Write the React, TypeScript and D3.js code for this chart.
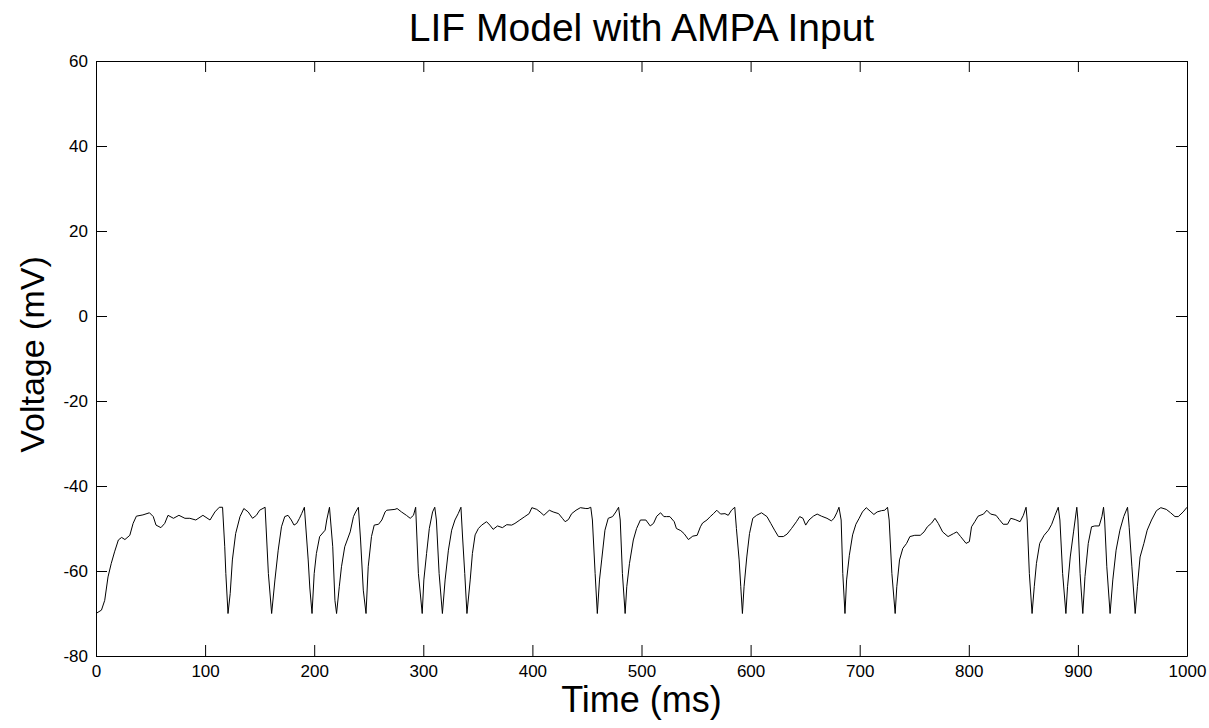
import React, { useEffect, useRef } from "react";
import * as d3 from "d3";

// membrane trace (time ms, voltage mV)
const timeMs = [
  0, 5, 8, 11, 14, 17, 20.5, 23.5, 26.5, 31, 34, 37, 43, 49, 52.5, 55, 59.5, 63, 66, 71, 76, 81.5, 86, 91.5, 98, 104.5, 109, 113, 116,
  118, 119, 121, 123, 125, 128, 132, 135.5, 139.5, 143.5, 147, 150, 155, 158, 161, 164, 167, 170, 173, 176, 179, 181.5, 184, 186.5,
  188.5, 191, 194.5, 196, 198, 200, 202, 205, 210, 211.5, 214, 217, 219, 220.5, 223, 225, 228, 233, 236, 238, 240.5, 242.5, 245,
  247.5, 249.5, 252.5, 255, 259, 262, 265, 266.5, 274, 276, 280, 284.5, 288, 291, 293, 295.5, 299, 300.5, 303, 305.5, 308.5, 310.5,
  312, 314.5, 317.5, 320, 323, 326, 329, 332, 334.5, 336, 338, 340, 343, 345, 347.5, 350.5, 353.5, 358, 361, 364, 368, 372.5, 376.5,
  381, 384, 388.5, 393, 397, 399.5, 404, 407, 410.5, 415.5, 419, 424, 427.5, 430, 433, 436, 440, 444, 449, 451, 453.5, 455, 457.5,
  459.5, 461.5, 463.5, 466.5, 469.5, 473.5, 476.5, 479, 480.5, 482.5, 485, 486.5, 489, 492.5, 495.5, 499, 504, 508, 511, 514, 517.5,
  520.5, 523, 526, 530, 532, 536, 539, 543, 547, 551, 554, 556, 560, 563, 566, 569, 572.5, 576.5, 579.5, 582.5, 585.5, 587, 589.5,
  591, 592.5, 594, 596.5, 599, 602, 605.5, 610, 615, 618.5, 622, 625.5, 630, 633.5, 637.5, 642, 645, 648, 650.5, 653.5, 657.5, 661,
  665, 670, 674, 676.5, 679, 681, 683, 684.5, 686.5, 688, 690.5, 693.5, 696.5, 699.5, 702.5, 706, 709.5, 713, 716, 720, 723, 725.5,
  727, 729.5, 732.5, 734, 736.5, 739.5, 743, 746, 750.5, 755.5, 759, 762, 766, 769, 772, 776, 781, 786, 789, 792.5, 797.5, 800.5,
  802.5, 805.5, 808.5, 813.5, 816.5, 820, 825, 828, 831.5, 835.5, 838.5, 842.5, 847, 850, 852.5, 853.5, 855.5, 858, 860, 862, 865,
  869, 873, 876, 879, 882, 883.5, 886, 889, 890.5, 893, 896, 899, 900, 902, 904.5, 906.5, 909.5, 912.5, 915.5, 919.5, 922, 923.5,
  924.5, 926.5, 929.5, 932, 935, 938.5, 942, 945.5, 947, 949.5, 952.5, 954.5, 957, 960.5, 963.5, 967.5, 972, 976, 981, 985, 989,
  992, 996.5, 1000,
];

const voltageMv = [
  -70, -69.2, -66.9, -61.4, -58.2, -55.5, -52.7, -52.1, -52.6, -51.6, -48.8, -47.1, -46.8, -46.3, -47.2, -49.2, -49.8, -48.8, -46.9,
  -47.6, -46.9, -47.6, -47.6, -48, -46.9, -48, -46.1, -45, -45,
  -54.3, -60.6, -70, -65.3, -57.4, -51.2, -47.2, -45.3, -46.1, -47.6, -46.9, -45.7, -45, -60.6, -70, -62.1, -55.1, -49.6, -47.2,
  -46.9, -48, -49.2, -48.8, -47.6,
  -46.5, -45, -57.4, -64, -70, -60.6, -55.9, -51.9, -50.4, -48, -45, -54.3, -66.9, -70, -63.7, -59, -54.3, -50.8, -47.2, -46.1, -45,
  -52.7, -64.5,
  -70, -59, -51.9, -49.2, -49, -48, -46.1, -45.7, -45.5, -45.3, -46.1, -46.9, -47.6, -46.9, -45, -60.6, -70, -62.1, -55.9, -50,
  -46.1, -45,
  -48, -60.6, -70, -62.1, -55.1, -50.4, -48, -46.5, -45, -52, -60.6, -70, -62.1, -55.9, -51.5, -50, -49.2, -48.4, -49.2, -50.2,
  -49.4, -49.8, -49.1,
  -49.2, -48.8, -48, -47.2, -46.5, -45.1, -45.5, -46.1, -46.9, -45.7, -46.1, -46.5, -47.6, -48.4, -47.9, -46.5, -45.7, -45.1, -45.3,
  -45.3, -45, -48, -60.6,
  -70, -62.1, -57.4, -50.4, -47.6, -47.2, -46.1, -45, -48, -60.6, -70, -63.7, -58.2, -52.7, -50, -48, -48, -49.4, -48.8, -47.1,
  -46.3,
  -47.2, -47.2, -47.2, -48.4, -50, -50.5, -51.2, -52.6, -51.8, -51.6, -49.6, -48.7, -48, -47.2, -46.5, -45.7, -46.6, -46.5, -46.9,
  -45.7, -45, -50, -57.4,
  -63.7, -70, -63.7, -56.7, -51.2, -47.6, -46.9, -46.3, -47.2, -48.8, -50.4, -51.9, -51.9, -51.3, -50, -48.4, -47.2, -47.6, -49.2,
  -48, -47.1, -46.6,
  -47.1, -47.6, -48.2, -47.6, -46.3, -45, -48, -60.6, -70, -62.1, -56.3, -51.5, -49, -47.6, -46.1, -45.1, -45.9, -46.7, -46.1,
  -45.8, -45.7, -45,
  -48, -60.6, -70, -63.7, -57.4, -54.7, -53.5, -51.9, -51.6, -51.6, -50.8, -49.6, -48.7, -47.6, -48.8, -50.8, -51.9, -51.2, -50.8,
  -51.9, -53.5, -53.1,
  -49.6, -48.4, -47.1, -46.6, -45.7, -46.6, -46.9, -47.9, -49, -49, -47.6, -47.9, -48.4, -46.9, -45, -48, -60.6, -70, -63.7, -58.2,
  -53.5,
  -51.6, -50.4, -49, -46.9, -45, -48, -60.6, -70, -63.7, -56.7, -50.8, -45, -48, -60.6, -70, -61.3, -53.5, -49.6, -49.4, -49.4,
  -47.2, -45,
  -48, -59, -70, -62.1, -55.1, -50.4, -47.2, -45, -49.7, -59, -70, -63.7, -56.7, -53.5, -50.4, -48, -45.8, -45.1, -45.5, -46.3,
  -47.2,
  -47.2, -46.1, -45,
];

const xTicks = [0, 100, 200, 300, 400, 500, 600, 700, 800, 900, 1000];
const yTicks = [-80, -60, -40, -20, 0, 20, 40, 60];

const titleText = "LIF Model with AMPA Input";
const xLabelText = "Time (ms)";
const yLabelText = "Voltage (mV)";

const W = 1209;
const H = 728;
const FONT = "'Liberation Sans', Arial, Helvetica, sans-serif";

export default function App() {
  const svgRef = useRef<SVGSVGElement | null>(null);

  useEffect(() => {
    const svg = d3.select(svgRef.current);
    svg.selectAll("*").remove();

    const m = { left: 96, right: W - 1187, top: 61, bottom: H - 656 };
    const x = d3.scaleLinear().domain([0, 1000]).range([m.left, W - m.right]);
    const y = d3.scaleLinear().domain([-80, 60]).range([H - m.bottom, m.top]);

    svg.append("rect").attr("width", W).attr("height", H).attr("fill", "#fff");

    const TICK = -11;
    const plain = (d: any) => String(d); // ハイフンのマイナス
    const styleAxis = (g: any) => {
      g.attr("font-family", FONT).attr("font-size", 17);
      g.selectAll("path.domain").attr("stroke", "#000").attr("stroke-width", 1);
      g.selectAll("line").attr("stroke", "#000");
      g.selectAll("text").attr("fill", "#000");
    };

    // 四辺の軸（目盛りは内向き）
    svg
      .append("g")
      .attr("transform", `translate(0,${y(-80)})`)
      .call(d3.axisBottom(x).tickValues(xTicks).tickSizeInner(TICK).tickSizeOuter(0).tickPadding(9).tickFormat(plain))
      .call(styleAxis);
    svg
      .append("g")
      .attr("transform", `translate(0,${y(60)})`)
      .call(d3.axisTop(x).tickValues(xTicks).tickSizeInner(TICK).tickSizeOuter(0).tickFormat(() => ""))
      .call(styleAxis);
    svg
      .append("g")
      .attr("transform", `translate(${x(0)},0)`)
      .call(d3.axisLeft(y).tickValues(yTicks).tickSizeInner(TICK).tickSizeOuter(0).tickPadding(8).tickFormat(plain))
      .call(styleAxis);
    svg
      .append("g")
      .attr("transform", `translate(${x(1000)},0)`)
      .call(d3.axisRight(y).tickValues(yTicks).tickSizeInner(TICK).tickSizeOuter(0).tickFormat(() => ""))
      .call(styleAxis);

    // 電位トレース
    const pts = timeMs.map((t, i) => [t, voltageMv[i]] as [number, number]);
    const line = d3
      .line<[number, number]>()
      .x((d) => x(d[0]))
      .y((d) => y(d[1]));
    svg
      .append("path")
      .datum(pts)
      .attr("d", line)
      .attr("fill", "none")
      .attr("stroke", "#000")
      .attr("stroke-width", 1)
      .attr("stroke-linejoin", "miter");

    // ラベル
    svg
      .append("text")
      .attr("x", (x(0) + x(1000)) / 2)
      .attr("y", 41)
      .attr("text-anchor", "middle")
      .attr("font-family", FONT)
      .attr("font-size", 39)
      .text(titleText);
    svg
      .append("text")
      .attr("x", (x(0) + x(1000)) / 2)
      .attr("y", 712)
      .attr("text-anchor", "middle")
      .attr("font-family", FONT)
      .attr("font-size", 36)
      .text(xLabelText);
    svg
      .append("text")
      .attr("transform", `translate(44,${(y(60) + y(-80)) / 2 - 4}) rotate(-90)`)
      .attr("text-anchor", "middle")
      .attr("font-family", FONT)
      .attr("font-size", 34)
      .text(yLabelText);
  }, []);

  return (
    <svg
      ref={svgRef}
      width={W}
      height={H}
      style={{ position: "absolute", left: 0, top: 0, display: "block" }}
    />
  );
}
